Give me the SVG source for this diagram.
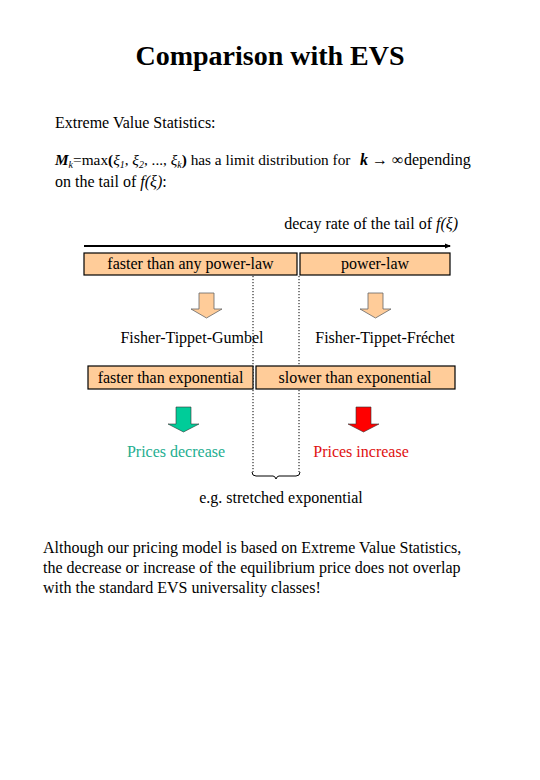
<svg xmlns="http://www.w3.org/2000/svg" width="540" height="780" viewBox="0 0 540 780">
<style>
text{font-family:"Liberation Serif","Times New Roman",serif;font-size:16px;fill:#000}
.title{font-size:28px;font-weight:bold}
.box{fill:#FFCC99;stroke:#000;stroke-width:1.2}
.dot{fill:none;stroke:#000;stroke-width:1;stroke-dasharray:1.2 1.8}
.parr{fill:#FFCC99;stroke:#666;stroke-width:0.8}
.it{font-style:italic}
.sub{font-size:10px}
</style>
<defs>
<marker id="ah" markerWidth="6" markerHeight="6" refX="5" refY="3" orient="auto" markerUnits="userSpaceOnUse">
<path d="M0,0.5 L6,3 L0,5.5 Z" fill="#000"/>
</marker>
</defs>
<rect width="540" height="780" fill="#fff"/>
<text class="title" x="270" y="65" text-anchor="middle">Comparison with EVS</text>
<text x="55" y="128">Extreme Value Statistics:</text>
<text x="55" y="165" style="font-size:15.3px"><tspan font-weight="bold" font-style="italic">M</tspan><tspan class="sub it" dy="3">k</tspan><tspan dy="-3">=max</tspan><tspan font-weight="bold">(</tspan><tspan class="it">ξ</tspan><tspan class="sub it" dy="3">1</tspan><tspan dy="-3">, </tspan><tspan class="it">ξ</tspan><tspan class="sub it" dy="3">2</tspan><tspan dy="-3">, ..., </tspan><tspan class="it">ξ</tspan><tspan class="sub it" dy="3">k</tspan><tspan dy="-3" font-weight="bold">)</tspan> has a limit distribution for</text>
<text x="360" y="165"><tspan class="it" font-weight="bold">k</tspan> → ∞</text>
<text x="404" y="165">depending</text>
<text x="55" y="187">on the tail of <tspan class="it">f(ξ)</tspan>:</text>
<text x="458" y="229" text-anchor="end">decay rate of the tail of <tspan class="it">f(ξ)</tspan></text>

<g id="connectors">
<line x1="84" y1="246" x2="450" y2="246" stroke="#000" stroke-width="2.2" marker-end="url(#ah)"/>
<line class="dot" x1="253" y1="276" x2="253" y2="472"/>
<line class="dot" x1="299" y1="276" x2="299" y2="472"/>
<path d="M252,472 Q252,476 256,476 L273,476 Q275,476 276,479 Q277,476 279,476 L296,476 Q300,476 300,472" fill="none" stroke="#000" stroke-width="1"/>
</g>

<g id="faster-than-any-power-law">
<rect class="box" x="84" y="253" width="213" height="22"/>
<text x="190.5" y="269" text-anchor="middle">faster than any power-law</text>
</g>
<g id="power-law">
<rect class="box" x="300" y="253" width="150" height="22"/>
<text x="375" y="269" text-anchor="middle">power-law</text>
</g>
<g id="arrow-gumbel">
<path class="parr" d="M199,293 L214,293 L214,309 L222,309 L206.5,318 L191,309 L199,309 Z"/>
</g>
<g id="arrow-frechet">
<path class="parr" d="M368,293 L383,293 L383,309 L391,309 L375.5,318 L360,309 L368,309 Z"/>
</g>
<g id="fisher-tippet-gumbel">
<text x="192" y="343" text-anchor="middle">Fisher-Tippet-Gumbel</text>
</g>
<g id="fisher-tippet-frechet">
<text x="385" y="343" text-anchor="middle">Fisher-Tippet-Fréchet</text>
</g>
<g id="faster-than-exponential">
<rect class="box" x="88" y="366" width="165" height="23"/>
<text x="170.5" y="383" text-anchor="middle">faster than exponential</text>
</g>
<g id="slower-than-exponential">
<rect class="box" x="256" y="366" width="199" height="23"/>
<text x="355" y="383" text-anchor="middle">slower than exponential</text>
</g>
<g id="arrow-decrease">
<path d="M176,407 L191,407 L191,424 L199,424 L183.5,432 L168,424 L176,424 Z" fill="#00CC99" stroke="#333" stroke-width="0.6"/>
</g>
<g id="arrow-increase">
<path d="M356,407 L371,407 L371,424 L379,424 L363.5,432 L348,424 L356,424 Z" fill="#FF0000" stroke="#333" stroke-width="0.6"/>
</g>
<g id="prices-decrease">
<text x="176" y="457" text-anchor="middle" style="fill:#1EAE90">Prices decrease</text>
</g>
<g id="prices-increase">
<text x="361" y="457" text-anchor="middle" style="fill:#E01010">Prices increase</text>
</g>
<g id="stretched">
<text x="281" y="503" text-anchor="middle">e.g. stretched exponential</text>
</g>
<text x="43" y="553">Although our pricing model is based on Extreme Value Statistics,</text>
<text x="43" y="573">the decrease or increase of the equilibrium price does not overlap</text>
<text x="43" y="593">with the standard EVS universality classes!</text>
</svg>
